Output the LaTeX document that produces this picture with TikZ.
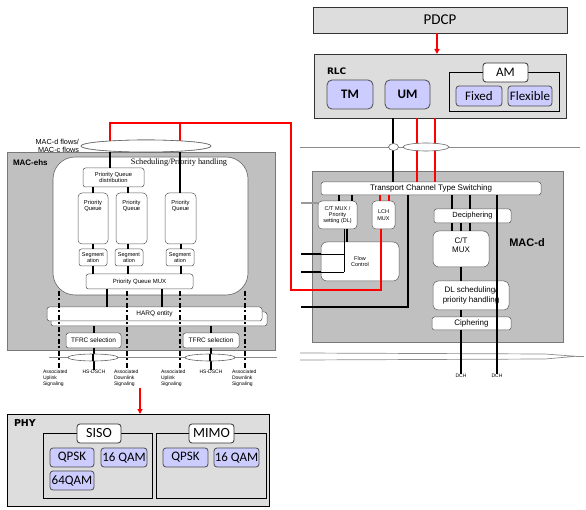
\documentclass[tikz,border=0pt]{standalone}
\usepackage{fontspec}
\setmainfont{Carlito}
\newfontfamily\arialf{Liberation Sans}
\newfontfamily\serff{Liberation Serif}
\newfontfamily\dejaf{DejaVu Sans}
\usetikzlibrary{arrows.meta,shapes.geometric}
\newcommand{\fsz}[2]{\fontsize{#1}{#2}\selectfont}
\newcommand{\mybox}[7]{\node[#6, minimum width={(#4)-(#2)}, minimum height={(#5)-(#3)}] (#1) at ({((#2)+(#4))/2},{((#3)+(#5))/2}) {#7};}
\definecolor{lavfill}{RGB}{204,204,255}
\definecolor{lightgr}{RGB}{221,221,221}
\definecolor{macgr}{RGB}{192,192,192}
\definecolor{macbd}{RGB}{120,120,120}
\begin{document}
\begin{tikzpicture}[x=1pt,y=-1pt,
  every node/.style={inner sep=0pt, outer sep=0pt},
  graybox/.style={draw=black!80, fill=lightgr, line width=0.8pt},
  lav/.style={draw=black!70, fill=lavfill, rounded corners=3pt, line width=0.8pt, font=\fsz{13}{14}},
  wlab/.style={draw=black!80, fill=white, rounded corners=3pt, line width=0.8pt},
  outl/.style={draw=black, line width=0.8pt},
  macbox/.style={draw=macbd, fill=macgr, line width=1pt},
  sbox/.style={draw=black!65, fill=white, rounded corners=2.5pt, line width=0.5pt, align=center, font=\arialf\fsz{5.5}{6.3}},
  txt/.style={align=center, font=\arialf\fsz{5.5}{6.3}},
  thk/.style={line width=2.2pt, black},
  rd/.style={line width=2.5pt, red},
  thn/.style={line width=0.5pt, black},
  grl/.style={line width=0.8pt, black!45},
  dsh/.style={line width=2.2pt, black, dash pattern=on 5pt off 2.5pt on 2pt off 2.5pt},
  ell/.style={ellipse, draw=black!60, fill=white, line width=0.6pt},
  lbl/.style={align=left, font=\arialf\fsz{5}{5.8}, anchor=north west}
]
\useasboundingbox (0,0) rectangle (586,510);

% ---------------- PDCP / RLC
\mybox{pdcp}{313}{7}{567}{33}{graybox, font=\fsz{15}{16}}{PDCP}
\mybox{rlc}{314}{54}{566}{118}{graybox}{}
\node[font=\dejaf\bfseries\fsz{9}{10}, anchor=west] (rlclab) at (327,71.5) {RLC};
\mybox{tm}{327}{80}{373}{109}{lav, rounded corners=5pt, font=\bfseries\fsz{13}{14}}{TM}
\mybox{um}{385}{80}{430}{109}{lav, rounded corners=5pt, font=\bfseries\fsz{13}{14}}{UM}
\mybox{amout}{449}{72}{559}{111}{outl}{}
\mybox{am}{483}{63}{528}{82}{wlab, font=\fsz{13}{14}}{AM}
\mybox{fixed}{456}{86}{502}{106}{lav}{Fixed}
\mybox{flex}{508}{86}{552}{106}{lav}{Flexible}
\draw[red, line width=1.5pt, -{Triangle[length=5pt,width=5pt]}] (pdcp.south -| 437,0) -- (rlc.north -| 437,0);

% ---------------- MAC-d
\mybox{macd}{312}{172}{563}{343}{macbox}{}
\node[font=\arialf\bfseries\fsz{11}{12}] (macdlab) at (527,243) {MAC-d};
\mybox{tcts}{321}{182}{541}{195}{sbox, font=\arialf\fsz{8}{9}}{Transport Channel Type Switching}
\mybox{ctp}{318}{201}{357}{229}{sbox, rounded corners=4pt}{C/T MUX /\\Priority\\setting (DL)}
\mybox{lch}{372}{201}{395}{229}{sbox, rounded corners=4pt}{LCH\\MUX}
\mybox{flow}{321}{242}{399}{281}{sbox, rounded corners=6pt}{Flow\\Control}
\mybox{deci}{434}{209}{511}{223}{sbox, font=\arialf\fsz{7.5}{8.5}}{Deciphering}
\mybox{ctm}{433}{231}{489}{267}{sbox, rounded corners=6pt}{}
\node[txt, font=\arialf\fsz{8}{9}] (ctmlab) at (461,245) {C/T\\MUX};
\mybox{dls}{433}{281}{509}{310}{sbox, rounded corners=5pt, font=\arialf\fsz{8}{9.5}}{DL scheduling/\\priority handling}
\mybox{ciph}{432}{317}{511}{330}{sbox, font=\arialf\fsz{8}{9}}{Ciphering}

% connectors RLC -> MAC-d
\coordinate (hl1) at (300,147);
\coordinate (hl2) at (580,147);
\draw[grl] (hl1) -- (hl2);
\draw[thk] (rlc.south -| 393,0) -- (tcts.north -| 393,0);
\draw[rd] (rlc.south -| 417,0) -- (tcts.north -| 417,0);
\draw[rd] (rlc.south -| 435,0) -- (tcts.north -| 435,0);
\node[ell, minimum width=10pt, minimum height=7pt] (es) at (393.5,147) {};
\node[ell, minimum width=46pt, minimum height=8pt] (eb) at (426,147) {};

% inside MAC-d
\draw[thk, line width=1.8pt] (tcts.south -| 339,0) -- (ctp.north -| 339,0);
\draw[thk, line width=1.8pt] (tcts.south -| 352,0) -- (ctp.north -| 352,0);
\draw[red, line width=2pt] (tcts.south -| 380,0) -- (lch.north -| 380,0);
\draw[red, line width=2pt] (tcts.south -| 389,0) -- (lch.north -| 389,0);
\coordinate (gl) at (301,203);
\draw[line width=1.8pt, black!40] (gl) -- (ctp.west |- gl);
\coordinate (bk1) at (301,254);
\coordinate (bk2) at (301,272);
\coordinate (bk3) at (301,307);
\draw[thk] (bk1) -- (flow.west |- bk1);
\draw[thk] (bk2) -- (flow.west |- bk2);
\draw[thn] (flow.west |- bk1) -- (344,254);
\draw[thn] (flow.west |- bk2) -- (344,272);
\draw[thn] (ctp.south -| 344,0) -- (344,272);
\draw[thk, line width=1.8pt] (ctp.south -| 347,0) -- (flow.north -| 347,0);
\draw[thk] (tcts.south -| 408,0) -- (408,307) -- (bk3);
\draw[thk, line width=2pt] (tcts.south -| 452,0) -- (deci.north -| 452,0);
\draw[thk, line width=2pt] (tcts.south -| 470,0) -- (deci.north -| 470,0);
\draw[thk, line width=2pt] (deci.south -| 452,0) -- (ctm.north -| 452,0);
\draw[thk, line width=2pt] (deci.south -| 461,0) -- (ctm.north -| 461,0);
\draw[thk, line width=2pt] (deci.south -| 470,0) -- (ctm.north -| 470,0);
\draw[thk, line width=2pt] (ctm.south -| 461,0) -- (dls.north -| 461,0);
\draw[thk, line width=2pt] (dls.south -| 461,0) -- (ciph.north -| 461,0);
\node[font=\arialf\fsz{5}{6}, anchor=north] (dch1) at (461,374) {DCH};
\node[font=\arialf\fsz{5}{6}, anchor=north] (dch2) at (497,374) {DCH};
\draw[thk, line width=2pt] (ciph.south -| 461,0) -- (dch1.north);
\draw[thk, line width=2pt] (tcts.south -| 497,0) -- (dch2.north);
% lens line
\draw[line width=0.7pt, black!45, fill=white] (300,353) -- (545,354) -- (576,356.3) -- (545,359) -- (300,360);
\draw[line width=0.7pt, black!45] (576,356.3) -- (584,356.3);
\draw[thk, line width=2pt] (461,350) -- (461,364);
\draw[thk, line width=2pt] (497,350) -- (497,364);

% ---------------- MAC-ehs
\mybox{mache}{7}{153}{275}{351}{macbox}{}
\node[font=\arialf\bfseries\fsz{8}{9}, anchor=west] (machelab) at (13,163) {MAC-ehs};
\mybox{sched}{53}{157}{248}{295}{draw=black!60, fill=white, line width=0.6pt, rounded corners=22pt}{}
\node[font=\serff\fsz{8.3}{9}] (schedlab) at (179,163) {Scheduling/Priority handling};
\node[ell, minimum width=130pt, minimum height=12pt] (ef) at (146,146) {};
\node[align=right, font=\arialf\fsz{7.3}{8}, anchor=east] (flows) at (79,146) {MAC-d flows/\\MAC-c flows};

\mybox{pqd}{83}{168}{144}{187}{sbox, font=\arialf\fsz{5.8}{6.8}}{Priority Queue\\distribution}
\mybox{pq1}{78}{193}{108}{244}{sbox, rounded corners=4pt}{}
\mybox{pq2}{116}{193}{147}{244}{sbox, rounded corners=4pt}{}
\mybox{pq3}{165}{193}{196}{244}{sbox, rounded corners=4pt}{}
\node[txt, font=\arialf\fsz{5.8}{6.5}] (pq1t) at (93,206) {Priority\\Queue};
\node[txt, font=\arialf\fsz{5.8}{6.5}] (pq2t) at (131.5,206) {Priority\\Queue};
\node[txt, font=\arialf\fsz{5.8}{6.5}] (pq3t) at (180.5,206) {Priority\\Queue};
\mybox{sg1}{79}{249}{107}{266}{sbox, font=\arialf\fsz{5.5}{6.3}}{Segment\\ation}
\mybox{sg2}{115}{249}{143}{266}{sbox, font=\arialf\fsz{5.5}{6.3}}{Segment\\ation}
\mybox{sg3}{166}{249}{194}{266}{sbox, font=\arialf\fsz{5.5}{6.3}}{Segment\\ation}
\mybox{pqm}{86}{274}{193}{289}{sbox, font=\arialf\fsz{6}{7}}{Priority Queue MUX}
\mybox{harqs}{51}{312}{267}{326}{sbox}{}
\mybox{harq}{47}{307}{262}{321}{sbox, font=\arialf\fsz{6.5}{7.5}}{HARQ entity}
\mybox{tf1}{66}{333}{121}{348}{sbox, font=\arialf\fsz{6.5}{7.5}}{TFRC selection}
\mybox{tf2}{183}{333}{239}{348}{sbox, font=\arialf\fsz{6.5}{7.5}}{TFRC selection}

% red path
\coordinate (r1) at (110,123);
\coordinate (r2) at (180,123);
\coordinate (r3) at (291,123);
\coordinate (r4) at (291,290);
\coordinate (r5) at (381,290);
\draw[rd, line join=miter] (lch.south -| r5) -- (r5) -- (r4) -- (r3) -- (r1) -- (ef.center -| r1);
\draw[rd] (r2) -- (ef.center -| r2);
\node[ell, minimum width=130pt, minimum height=12pt] at (ef) {};

% black connectors in MAC-ehs
\draw[thk, line width=2pt] (ef.south -| 110,0) -- (pqd.north -| 110,0);
\draw[thk, line width=2pt] (ef.south -| 180,0) -- (pq3.north -| 180,0);
\draw[thk, line width=2pt] (pqd.south -| 93,0) -- (pq1.north -| 93,0);
\draw[thk, line width=2pt] (pqd.south -| 128,0) -- (pq2.north -| 128,0);
\draw[thk, line width=2pt] (pq1.south -| 93,0) -- (sg1.north -| 93,0);
\draw[thk, line width=2pt] (pq2.south -| 128,0) -- (sg2.north -| 128,0);
\draw[thk, line width=2pt] (pq3.south -| 181,0) -- (sg3.north -| 181,0);
\draw[thk, line width=2pt] (sg1.south -| 93,0) -- (pqm.north -| 93,0);
\draw[thk, line width=2pt] (sg2.south -| 128,0) -- (pqm.north -| 128,0);
\draw[thk, line width=2pt] (sg3.south -| 181,0) -- (pqm.north -| 181,0);
\draw[thk, line width=2pt] (pqm.south -| 107,0) -- (harq.north -| 107,0);
\draw[thk, line width=2pt] (pqm.south -| 162,0) -- (harq.north -| 162,0);
\draw[thk, line width=2pt] (harqs.south -| 94,0) -- (tf1.north -| 94,0);
\draw[thk, line width=2pt] (harqs.south -| 211,0) -- (tf2.north -| 211,0);

% bottom labels
\node[lbl] (au1) at (43,370) {Associated\\Uplink\\Signaling};
\node[lbl, anchor=north] (hs1) at (94,370) {HS-DSCH};
\node[lbl] (ad1) at (114,370) {Associated\\Downlink\\Signaling};
\node[lbl] (au2) at (161,370) {Associated\\Uplink\\Signaling};
\node[lbl, anchor=north] (hs2) at (211,370) {HS-DSCH};
\node[lbl] (ad2) at (232,370) {Associated\\Downlink\\Signaling};
\draw[thk, line width=2pt] (tf1.south -| 94,0) -- (hs1.north);
\draw[thk, line width=2pt] (tf2.south -| 211,0) -- (hs2.north);
\coordinate (bl1) at (49,357);
\coordinate (bl2) at (277,357);
\draw[grl] (bl1) -- (bl2);
\node[ell, minimum width=50pt, minimum height=7pt] (eh1) at (93,357.5) {};
\node[ell, minimum width=50pt, minimum height=7pt] (eh2) at (210,357.5) {};
\draw[thk, line width=2pt] (eh1.north) -- (eh1.south);
\draw[thk, line width=2pt] (eh2.north) -- (eh2.south);
\coordinate (d1) at (59,291);
\coordinate (d2) at (127,291);
\coordinate (d3) at (180,291);
\coordinate (d4) at (245,291);
\draw[dsh] (d1) -- (au1.north -| d1);
\draw[dsh] (d2) -- (ad1.north -| d2);
\draw[dsh] (d3) -- (au2.north -| d3);
\draw[dsh] (d4) -- (ad2.north -| d4);

% ---------------- PHY
\mybox{phy}{7}{414}{269}{506}{graybox, draw=black}{}
\coordinate (ra) at (140,388);
\draw[red, line width=1.8pt, -{Triangle[length=5pt,width=5pt]}] (ra) -- (phy.north -| ra);
\node[font=\dejaf\bfseries\fsz{9.5}{10}, anchor=west] (phylab) at (14,423) {PHY};
\mybox{sisoout}{43}{433}{152}{498}{outl}{}
\mybox{mimoout}{156}{433}{266}{498}{outl}{}
\mybox{siso}{77}{424}{121}{443}{wlab, font=\fsz{14}{15}}{SISO}
\mybox{mimo}{189}{424}{234}{443}{wlab, font=\fsz{14}{15}}{MIMO}
\mybox{q1}{50}{448}{94}{467}{lav}{QPSK}
\mybox{q2}{101}{448}{147}{467}{lav}{16 QAM}
\mybox{q3}{50}{471}{94}{490}{lav}{64QAM}
\mybox{q4}{163}{448}{208}{467}{lav}{QPSK}
\mybox{q5}{214}{448}{259}{467}{lav}{16 QAM}
\end{tikzpicture}
\end{document}
